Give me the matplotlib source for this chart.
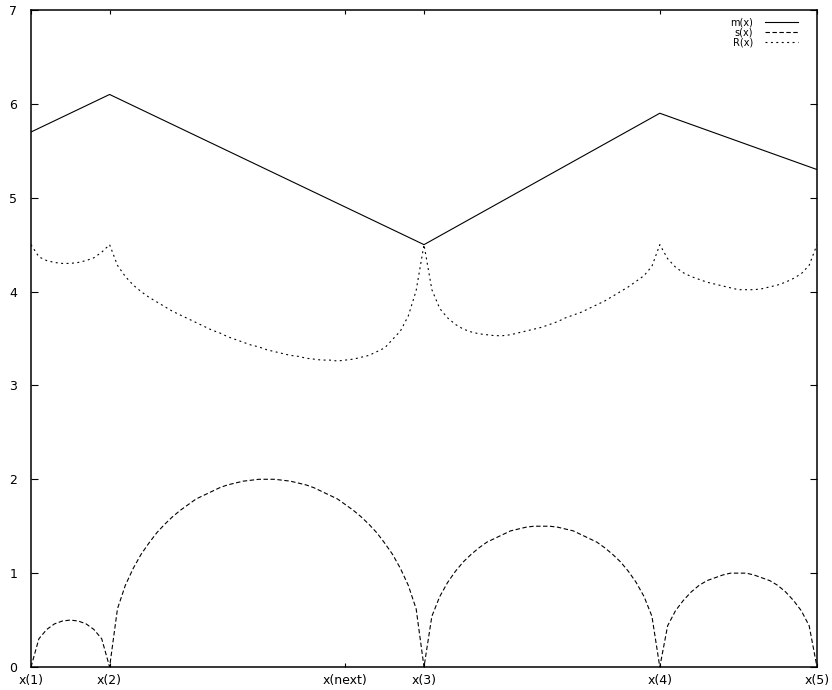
import numpy as np
import matplotlib
matplotlib.use("Agg")
import matplotlib.pyplot as plt

plt.rcParams['font.family'] = ['DejaVu Sans']
plt.rcParams['lines.scale_dashes'] = False

# node positions / labels on the x axis
x_ticks = [0, 1, 4, 5, 8, 10]
x_ticklabels = ["x(1)", "x(2)", "x(next)", "x(3)", "x(4)", "x(5)"]

# m(x): piecewise linear through the sampled points
x_nodes = [0, 1, 5, 8, 10]
m_nodes = [5.7, 6.1, 4.5, 5.9, 5.3]

# s(x) and R(x) sampled every 0.1 from 0 to 10
x_samp = np.linspace(0, 10, 101)

s_vals = [0.00, 0.30, 0.40, 0.46, 0.49, 0.50, 0.49, 0.46, 0.40, 0.30,
          0.00, 0.62, 0.87, 1.05, 1.20, 1.32, 1.43, 1.52, 1.60, 1.67,
          1.73, 1.79, 1.83, 1.87, 1.91, 1.94, 1.96, 1.98, 1.99, 2.00,
          2.00, 2.00, 1.99, 1.98, 1.96, 1.94, 1.91, 1.87, 1.83, 1.79,
          1.73, 1.67, 1.60, 1.52, 1.43, 1.32, 1.20, 1.05, 0.87, 0.62,
          0.00, 0.54, 0.75, 0.90, 1.02, 1.12, 1.20, 1.27, 1.33, 1.37,
          1.41, 1.45, 1.47, 1.49, 1.50, 1.50, 1.50, 1.49, 1.47, 1.45,
          1.41, 1.37, 1.33, 1.27, 1.20, 1.12, 1.02, 0.90, 0.75, 0.54,
          0.00, 0.44, 0.60, 0.71, 0.80, 0.87, 0.92, 0.95, 0.98, 1.00,
          1.00, 1.00, 0.98, 0.95, 0.92, 0.87, 0.80, 0.71, 0.60, 0.44,
          0.00]

R_vals = [4.50, 4.37, 4.33, 4.31, 4.30, 4.30, 4.31, 4.33, 4.36, 4.42,
          4.50, 4.28, 4.16, 4.07, 4.00, 3.94, 3.89, 3.84, 3.79, 3.75,
          3.71, 3.67, 3.63, 3.59, 3.56, 3.52, 3.49, 3.46, 3.43, 3.41,
          3.38, 3.36, 3.34, 3.32, 3.31, 3.29, 3.28, 3.27, 3.27, 3.26,
          3.27, 3.28, 3.30, 3.32, 3.36, 3.40, 3.49, 3.58, 3.74, 4.01,
          4.50, 4.02, 3.82, 3.72, 3.65, 3.60, 3.57, 3.55, 3.54, 3.53,
          3.53, 3.54, 3.56, 3.58, 3.60, 3.62, 3.65, 3.68, 3.72, 3.75,
          3.78, 3.82, 3.86, 3.90, 3.95, 4.00, 4.05, 4.11, 4.17, 4.27,
          4.50, 4.35, 4.26, 4.20, 4.16, 4.13, 4.10, 4.08, 4.06, 4.04,
          4.02, 4.02, 4.02, 4.03, 4.05, 4.07, 4.10, 4.14, 4.19, 4.28,
          4.50]

fig = plt.figure(figsize=(8.32, 6.90), dpi=100)
ax = fig.add_axes([31/832, 23/690, 786/832, 657/690])

ax.plot(x_nodes, m_nodes, color='black', lw=0.8, label='m(x)')
ax.plot(x_samp, s_vals, color='black', lw=0.8, dashes=(3.2, 1.8), label='s(x)')
ax.plot(x_samp, R_vals, color='black', lw=0.8, dashes=(1.4, 2.5), label='R(x)')

ax.set_xlim(0, 10)
ax.set_ylim(0, 7)
ax.set_xticks(x_ticks)
ax.set_xticklabels(x_ticklabels)
ax.set_yticks(range(8))

ax.tick_params(axis='both', direction='in', top=True, right=True,
               labelsize=9, width=0.8, color='black')
ax.tick_params(axis='y', length=5, pad=10)
ax.tick_params(axis='x', length=3, pad=5)
for sp in ax.spines.values():
    sp.set_linewidth(1.1)

ax.legend(loc='upper right', bbox_to_anchor=(0.9758, 0.988), frameon=False,
          markerfirst=False, fontsize=7, handlelength=3.4, handletextpad=1.25,
          labelspacing=0, borderpad=0, borderaxespad=0)

fig.savefig("out.png", dpi=100)
